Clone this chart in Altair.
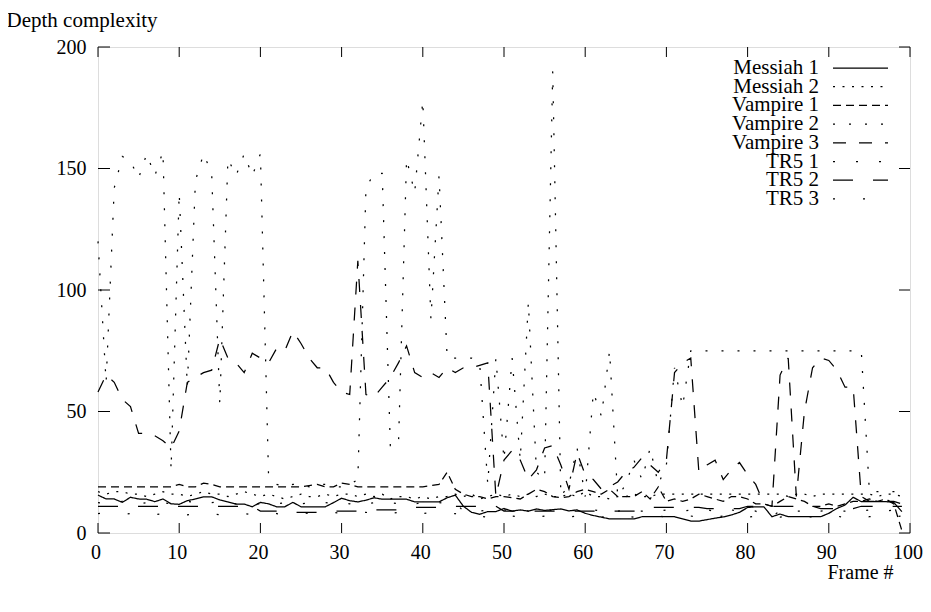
import altair as alt
import pandas as pd

FONT = "Liberation Serif"
FS = 20
LFS = 21
W, H = 812, 486

frames = list(range(100))

messiah1 = [15.6,14,14,12.6,14.7,14,13.9,12.9,14,12,
            11.8,13.3,14,14.9,14.9,13.6,12.8,11.9,11.9,10.8,
            12.6,12,10.8,10.8,12.6,10.8,10.8,10.8,10.8,12.5,
            14.3,13.3,12.8,13.5,14.5,13.9,13.9,13.9,13.9,12.8,
            12.8,12.8,12.8,14.5,15.6,11,8.5,7.7,8.8,8.8,
            10.1,9,9.5,9,9.9,9.3,9.6,9.9,9.1,9.5,
            8.1,7.2,6.5,5.8,5.8,5.8,5.8,6.7,6.7,6.7,
            6.7,6.7,5.8,4.9,4.9,5.5,6.1,6.6,7.4,8.5,
            10.5,10.8,10.8,6.7,7.8,6.7,6.7,6.7,6.7,6.7,
            8.1,10.1,11.5,14.7,12.9,12.9,12.9,12.9,12.6,8.8]

messiah2 = [17,16,17,17,16,16,15,16,17,16,
            16,15,16,17,16,16,15,16,17,16,
            15,16,15,14,15,16,15,15,16,15,
            16,16,15,16,15,16,14,15,15,14,
            15,14,15,15,16,15,16,14,15,16,
            15,16,15,16,15,16,15,15,16,15,
            17,15,15,14,15,15,16,15,15,16,
            16,16,16,16,16,16,16,16,16,16,
            16,16,16,16,16,15,16,16,15,16,
            16,16,16,16,16,16,15,16,16,15]

vampire1 = [19,19,19,19,19,19,19,19,19,19,
            20,19,19,20.5,20,19,19,19,19,19,
            19,19,19,19,19,19,19.5,20,19,19,
            20.5,20,19,19,19,19,19,19,19,19,
            19,19.5,20,25,18,16,15,15,14,15,
            15,14.5,14,16,18,17,15,14.5,15,17,
            18,17,16,18,15,15,15,17,14,19,
            13,14,13,14,16,15,14,13,15,15,
            14,12,12,11,13,15,14,13,11,11,
            12,11,12,13,13,14,13,14,12,1]

vampire2 = [120,62,142,155,153,146,156,147,157,26,
            140,60,145,156,148,53,154,147,156,147,
            156,24,20,19,20,20,19,20,20,19,
            19,20,22,142,148,148,36,36,154,140,
            178,88,147,72,72,72,72,70,20,72,
            30,72,30,95,25,22,190,15,20,35,
            15,58,48,75,15,20,30,22,35,20,
            28,68,52,75,75,75,75,75,75,75,
            75,75,75,75,75,75,75,75,75,75,
            75,75,75,75,75,17,17,17,17,17]

vampire3 = [58,65,62,55,52,41,41,40,38,35,
            42,62,64,66,67,80,72,70,66,74,
            72,70,76,75,83,78,72,68,68,62,
            58,57,112,57,56,60,64,70,77,66,
            64,66,64,68,66,68,68,69,70,15,
            30,34,30,22,26,35,36,28,18,33,
            24,22,18,19,21,25,27,31,28,25,
            30,66,70,72,25,28,30,22,26,29,
            24,20,12,11,65,72,15,50,68,72,
            71,67,60,60,15,13,13,13,13,12]

tr5_1 = [12.5,12,12.5,13,12.5,12,12.5,13,12.5,12,
         12.5,13,12.5,12,12.5,13,12.5,12,12.5,12,
         12,12.5,12,12.5,12,12,12.5,12,12.5,12,
         12.5,12,12.5,12,12.5,12,12.5,12,12.5,12,
         12.5,12,12.5,12,12.5,9,9.5,9,9.5,9,
         9.5,9,9.5,9,9.5,9,9.5,9,9,9.5,
         9,9.5,9,9.5,9,9.5,9,9,9.5,9,
         9.5,9,9,9.5,9,9.5,9,9,9.5,9,
         9.5,9,7,7,9,9.5,9,9,9.5,9,
         9.5,9,9,9.5,9,9.5,9,9,9.5,9]

tr5_2 = [11,11,11,11,11,11,11,11,11,11,
         11,11,11,11,11,11,11,11,11,11,
         9,9,9,9,8.5,8.5,8.5,8.5,8.5,9,
         9,9,9,9,9.5,9.5,9.5,9.5,10.5,10.5,
         10.5,10.5,10.5,11,11,11,11,11,11,11,
         9,9,9,9,9,9,9,9,9,9,
         9,9,9,9,9,9,9,9,10.5,10.5,
         10.5,10.5,10.5,10.5,10.5,10,10,10,10,10,
         11,11,11,11,11,11,11,11,11,10,
         10,10,10,10,11,11,11,11,11,11]

tr5_3 = [8,8.5,8,7.5,8,8.5,8,7.5,8,8.5,
         8,7.5,8,8.5,8,7.5,8,8.5,8,7.5,
         8,8.5,8,7.5,8,8.5,8,7.5,8,8.5,
         8,7.5,8,8.5,8,7.5,8,8.5,8,7.5,
         8,8.5,8,7.5,8,6.5,6.5,7,6.5,7,
         6.5,7,6.5,7,6.5,7,6.5,7,6.5,7,
         6.5,7,6.5,7,6.5,7,6.5,7,6.5,7,
         6.5,7,6.5,7,6.5,7,6.5,7,6.5,7,
         6.5,7,6.5,7,6.5,7,6.5,7,6.5,7,
         6.5,7,6.2,7,6.5,6.7,6.7,6.7,6.5,7]

names = ["Messiah 1", "Messiah 2", "Vampire 1", "Vampire 2",
         "Vampire 3", "TR5 1", "TR5 2", "TR5 3"]
series_values = [messiah1, messiah2, vampire1, vampire2,
                 vampire3, tr5_1, tr5_2, tr5_3]
dash_patterns = [[1, 0], [2, 7.5], [8, 5], [2, 14], [13, 13],
                 [2, 21], [20, 20], [2, 28]]

x_ticks = list(range(0, 101, 10))
y_ticks = [0, 50, 100, 150, 200]

rows = []
for n, vals in zip(names, series_values):
    for f, v in zip(frames, vals):
        rows.append({"frame": f, "value": v, "series": n})
df = pd.DataFrame(rows)

xscale = alt.Scale(domain=[0, 100], nice=False, zero=False)
yscale = alt.Scale(domain=[0, 200], nice=False)

x_axis = alt.Axis(values=x_ticks, ticks=False, tickSize=0, domain=False, grid=False,
                  labelFont=FONT, labelFontSize=FS, labelColor="black",
                  labelPadding=9, labelFlush=False, labelOffset=-2.5,
                  title="Frame #", titleFont=FONT, titleFontSize=FS,
                  titleFontWeight="normal", titleColor="black",
                  titleAlign="left", titleBaseline="middle",
                  titleX=729, titleY=39)
y_axis = alt.Axis(values=y_ticks, ticks=False, tickSize=0, domain=False, grid=False,
                  labelFont=FONT, labelFontSize=FS, labelColor="black",
                  labelPadding=12, labelFlush=False,
                  title="Depth complexity", titleFont=FONT, titleFontSize=21,
                  titleFontWeight="normal", titleColor="black",
                  titleAngle=0, titleAlign="left", titleBaseline="middle",
                  titleX=-92, titleY=-27)

lines = alt.Chart(df).mark_line(color="black", strokeWidth=1.25).encode(
    x=alt.X("frame:Q", scale=xscale, axis=x_axis, title="Frame #"),
    y=alt.Y("value:Q", scale=yscale, axis=y_axis, title="Depth complexity"),
    strokeDash=alt.StrokeDash("series:N",
                              scale=alt.Scale(domain=names, range=dash_patterns),
                              legend=None),
    detail="series:N",
)

xt = pd.DataFrame({"t": x_ticks})
yt = pd.DataFrame({"t": y_ticks})
tick_layers = [
    alt.Chart(xt).mark_rule(color="black", strokeWidth=1).encode(
        x=alt.X("t:Q", scale=xscale, axis=x_axis, title="Frame #"),
        y=alt.value(H), y2=alt.value(H - 10)),
    alt.Chart(xt).mark_rule(color="black", strokeWidth=1).encode(
        x=alt.X("t:Q", scale=xscale, axis=x_axis, title="Frame #"),
        y=alt.value(0), y2=alt.value(10)),
    alt.Chart(yt).mark_rule(color="black", strokeWidth=1).encode(
        y=alt.Y("t:Q", scale=yscale, axis=y_axis, title="Depth complexity"),
        x=alt.value(0), x2=alt.value(12)),
    alt.Chart(yt).mark_rule(color="black", strokeWidth=1).encode(
        y=alt.Y("t:Q", scale=yscale, axis=y_axis, title="Depth complexity"),
        x=alt.value(W), x2=alt.value(W - 11)),
]

legend_layers = []
for i, (n, d) in enumerate(zip(names, dash_patterns)):
    ly = 21 + 18.7 * i
    ldf = pd.DataFrame({"label": [n]})
    legend_layers.append(
        alt.Chart(ldf).mark_text(align="right", baseline="middle", font=FONT,
                                 fontSize=LFS, color="black").encode(
            text="label:N", x=alt.value(721), y=alt.value(ly)))
    legend_layers.append(
        alt.Chart(ldf).mark_rule(color="black", strokeWidth=1.25, strokeDash=d).encode(
            x=alt.value(735), x2=alt.value(790), y=alt.value(ly)))

chart = alt.layer(lines, *tick_layers, *legend_layers).properties(
    width=W, height=H,
    autosize=alt.AutoSizeParams(type="none"),
    padding={"left": 90, "top": 39, "right": 13, "bottom": 63},
).configure_view(stroke="black", strokeWidth=1).configure(background="white")

chart.save("out.html", embed_options={"renderer": "svg", "actions": False})
